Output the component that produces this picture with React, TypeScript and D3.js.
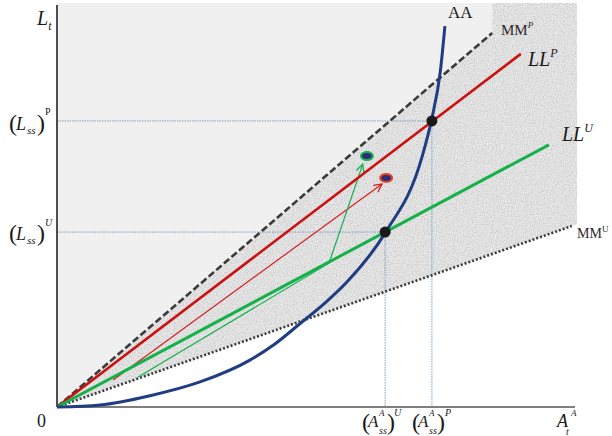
import React from "react";
import * as d3 from "d3";

// ---- data (schematic units, 0..100 on both axes) ----
const mmPLine: [number, number][] = [[0, 0], [83.7, 92.6]];
const llPLine: [number, number][] = [[0, 0], [89.2, 87.4]];
const llULine: [number, number][] = [[0, 0], [94.6, 64.9]];
const mmULine: [number, number][] = [[0, 0], [99.0, 44.8]];
const aaCurve: [number, number][] = [
  [0, 0], [8.3, 0.5], [17.9, 2.8], [27.5, 6.2], [37.1, 11.6], [41.9, 15.6],
  [46.7, 20.6], [52.1, 26.4], [55.8, 31.0], [63.1, 43.1], [70.2, 61.9], [72.1, 71.5],
  [73.7, 82.9], [74.6, 94.3],
];
const steadyU: [number, number] = [63.1, 43.3];
const steadyP: [number, number] = [72.1, 70.8];
const redArrow: [number, number][] = [[10.8, 6.7], [62.5, 55.2]];
const greenArrow: [number, number][] = [[15.6, 7.4], [52.3, 35.6], [58.8, 60.1]];
const redPoint: [number, number] = [63.3, 56.7];
const greenPoint: [number, number] = [59.6, 62.1];
const flatRegion: [number, number][] = [[0, 0], [0, 100], [83.7, 100], [83.7, 92.6]];
const speckleRegion: [number, number][] = [[0, 0], [83.7, 92.6], [83.7, 100], [100, 100], [100, 45.3], [99.0, 44.8]];

const W = 612, H = 436;
const x = d3.scaleLinear().domain([0, 100]).range([57, 577]);
const y = d3.scaleLinear().domain([0, 100]).range([407, 3]);
const line = d3.line<[number, number]>().x(d => x(d[0])).y(d => y(d[1]));
const curve = d3.line<[number, number]>().x(d => x(d[0])).y(d => y(d[1])).curve(d3.curveMonotoneX);
const poly = (pts: [number, number][]) => line(pts) + "Z";

const serif = "'Liberation Serif', 'DejaVu Serif', serif";
const ink = "#1a1a1a";
const guide = "#7f9cc4";

export default function App() {
  const [ux, uy] = [x(steadyU[0]), y(steadyU[1])];
  const [px, py] = [x(steadyP[0]), y(steadyP[1])];
  return (
    <svg width={W} height={H} style={{ position: "absolute", left: 0, top: 0, background: "#fff" }} fontFamily={serif}>
      <defs>
        <filter id="noise" x="0" y="0" width="100%" height="100%">
          <feTurbulence type="fractalNoise" baseFrequency="0.9" numOctaves="2" seed="4" result="n" />
          <feColorMatrix in="n" type="matrix" values="0 0 0 0 0.45  0 0 0 0 0.45  0 0 0 0 0.45  1.4 0 0 0 -0.5" result="dots" />
          <feComposite in="dots" in2="SourceGraphic" operator="in" result="clipped" />
          <feMerge>
            <feMergeNode in="SourceGraphic" />
            <feMergeNode in="clipped" />
          </feMerge>
        </filter>
        <marker id="arrRed" viewBox="0 0 10 10" refX="9" refY="5" markerWidth="10" markerHeight="10" markerUnits="userSpaceOnUse" orient="auto">
          <path d="M1,1 L9,5 L1,9" fill="none" stroke="#d42020" strokeWidth="1.3" />
        </marker>
        <marker id="arrGreen" viewBox="0 0 10 10" refX="9" refY="5" markerWidth="10" markerHeight="10" markerUnits="userSpaceOnUse" orient="auto">
          <path d="M1,1 L9,5 L1,9" fill="none" stroke="#16b050" strokeWidth="1.3" />
        </marker>
      </defs>

      {/* background regions */}
      <path d={poly(flatRegion)} fill="#f0f0f0" />
      <path d={poly(speckleRegion)} fill="#e9e9e9" filter="url(#noise)" />

      {/* guide lines */}
      <line x1={x(0)} x2={ux} y1={uy} y2={uy} stroke={guide} strokeWidth={1} strokeDasharray="1.5,1" />
      <line x1={ux} x2={ux} y1={uy} y2={y(0)} stroke={guide} strokeWidth={1} strokeDasharray="1.5,1" />
      <line x1={x(0)} x2={px} y1={py} y2={py} stroke={guide} strokeWidth={1} strokeDasharray="1.5,1" />
      <line x1={px} x2={px} y1={py} y2={y(0)} stroke={guide} strokeWidth={1} strokeDasharray="1.5,1" />

      {/* axes */}
      <line x1={x(0)} x2={x(0)} y1={y(100) + 2} y2={y(0)} stroke="#222" strokeWidth={1.6} />
      <line x1={x(0)} x2={x(100) - 2} y1={y(0)} y2={y(0)} stroke="#555" strokeWidth={1.6} />

      {/* MM lines */}
      <path d={line(mmPLine)!} stroke="#3a3a3a" strokeWidth={2.6} strokeDasharray="7,3" fill="none" />
      <path d={line(mmULine)!} stroke="#3a3a3a" strokeWidth={2.6} strokeDasharray="2,2" fill="none" />

      {/* thin arrows */}
      <path d={line(redArrow)!} stroke="#d42020" strokeWidth={1.2} fill="none" markerEnd="url(#arrRed)" />
      <path d={line(greenArrow)!} stroke="#16b050" strokeWidth={1.2} fill="none" markerEnd="url(#arrGreen)" />

      {/* LL lines */}
      <path d={line(llPLine)!} stroke="#cc1010" strokeWidth={2.6} fill="none" />
      <path d={line(llULine)!} stroke="#14b04a" strokeWidth={3} fill="none" />

      {/* AA curve */}
      <path d={curve(aaCurve)!} stroke="#1f3d80" strokeWidth={3} fill="none" />

      {/* points */}
      <circle cx={ux} cy={uy} r={5.5} fill="#1a1a1a" />
      <circle cx={px} cy={py} r={5.5} fill="#1a1a1a" />
      <ellipse cx={x(redPoint[0])} cy={y(redPoint[1])} rx={6} ry={4} fill="#2c2c7a" stroke="#e2451e" strokeWidth={2} />
      <ellipse cx={x(greenPoint[0])} cy={y(greenPoint[1])} rx={6} ry={4} fill="#2c2c7a" stroke="#18b04c" strokeWidth={2} />

      {/* y axis labels */}
      <text x={37} y={25} fontSize={20} fontStyle="italic" fill={ink}>L<tspan fontSize={12} dy={5}>t</tspan></text>
      <text x={37} y={427} fontSize={18} fill={ink}>0</text>

      {/* (L_ss)^P */}
      <g fill={ink}>
        <text x={9} y={131} fontSize={24}>(</text>
        <text x={16} y={130} fontSize={18} fontStyle="italic">L</text>
        <text x={27} y={134} fontSize={11} fontStyle="italic">ss</text>
        <text x={37} y={131} fontSize={24}>)</text>
        <text x={45} y={115} fontSize={10}>P</text>
      </g>
      {/* (L_ss)^U */}
      <g fill={ink}>
        <text x={9} y={241} fontSize={24}>(</text>
        <text x={16} y={240} fontSize={18} fontStyle="italic">L</text>
        <text x={27} y={244} fontSize={11} fontStyle="italic">ss</text>
        <text x={37} y={241} fontSize={24}>)</text>
        <text x={45} y={226} fontSize={10} fontStyle="italic">U</text>
      </g>

      {/* x axis labels */}
      <g fill={ink}>
        <text x={362} y={430} fontSize={24}>(</text>
        <text x={368} y={427} fontSize={17} fontStyle="italic">A</text>
        <text x={379} y={416} fontSize={9} fontStyle="italic">A</text>
        <text x={379} y={434} fontSize={10} fontStyle="italic">ss</text>
        <text x={387} y={430} fontSize={24}>)</text>
        <text x={394} y={416} fontSize={10} fontStyle="italic">U</text>
      </g>
      <g fill={ink}>
        <text x={412} y={430} fontSize={24}>(</text>
        <text x={418} y={427} fontSize={17} fontStyle="italic">A</text>
        <text x={429} y={416} fontSize={9} fontStyle="italic">A</text>
        <text x={429} y={434} fontSize={10} fontStyle="italic">ss</text>
        <text x={437} y={430} fontSize={24}>)</text>
        <text x={445} y={416} fontSize={10} fontStyle="italic">P</text>
      </g>
      <g fill={ink}>
        <text x={557} y={427} fontSize={18} fontStyle="italic">A</text>
        <text x={571} y={416} fontSize={9} fontStyle="italic">A</text>
        <text x={566} y={435} fontSize={10} fontStyle="italic">t</text>
      </g>

      {/* line labels */}
      <text x={448} y={18} fontSize={17} fill={ink}>AA</text>
      <text x={501} y={35} fontSize={15} fill="#2a2a2a">MM<tspan fontSize={9} fontStyle="italic" dy={-7}>P</tspan></text>
      <text x={528} y={66} fontSize={20} fontStyle="italic" fill={ink}>LL<tspan fontSize={12} dy={-9}>P</tspan></text>
      <text x={562} y={141} fontSize={20} fontStyle="italic" fill={ink}>LL<tspan fontSize={12} dy={-9}>U</tspan></text>
      <text x={577} y={238} fontSize={14} fill="#2a2a2a">MM<tspan fontSize={9} dy={-6}>U</tspan></text>
    </svg>
  );
}
